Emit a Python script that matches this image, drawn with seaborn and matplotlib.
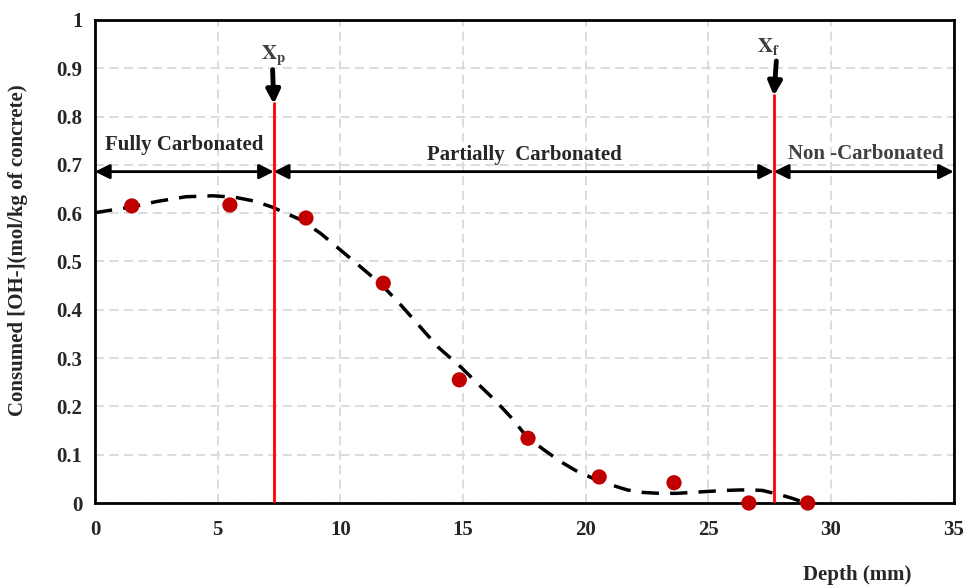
import matplotlib
matplotlib.use("Agg")
import matplotlib.pyplot as plt
import seaborn as sns
import pandas as pd

# measured points
depth = [1.5, 5.5, 8.6, 11.75, 14.85, 17.65, 20.55, 23.6, 26.65, 29.05]
consumed = [0.615, 0.617, 0.590, 0.455, 0.255, 0.134, 0.054, 0.042, 0.0, 0.0]

# dashed trend curve
trend_x = [0.0, 1.5, 2.5, 3.7, 4.8, 5.7, 6.5, 7.2, 8.4, 9.2, 10.0, 10.8, 11.7, 12.5,
           13.3, 14.0, 14.9, 15.6, 16.3, 17.0, 17.6, 18.3, 19.0, 19.6, 20.3, 21.0,
           21.7, 22.3, 23.0, 23.7, 24.4, 25.0, 25.7, 26.3, 26.8, 27.2, 27.6, 28.0,
           28.4, 28.8, 29.0]
trend_y = [0.601, 0.613, 0.624, 0.634, 0.636, 0.633, 0.625, 0.613, 0.586, 0.558,
           0.524, 0.490, 0.451, 0.408, 0.362, 0.322, 0.282, 0.247, 0.213, 0.175,
           0.137, 0.110, 0.085, 0.067, 0.051, 0.038, 0.027, 0.022, 0.020, 0.020,
           0.022, 0.024, 0.026, 0.027, 0.027, 0.026, 0.021, 0.016, 0.010, 0.003, 0.0]

x_p = 7.29
x_f = 27.67
zone_labels = ["Fully Carbonated", "Partially  Carbonated", "Non -Carbonated"]

sns.set_style("whitegrid")
plt.rcParams["font.family"] = ["Liberation Serif", "DejaVu Serif"]
plt.rcParams["font.weight"] = "bold"
plt.rcParams["mathtext.fontset"] = "stix"

fs = 15

fig = plt.figure(figsize=(9.66, 5.87), dpi=100)
ax = fig.add_axes([0.0983, 0.1431, 0.8890, 0.8229])

pts = pd.DataFrame({"depth": depth, "consumed": consumed})
trend = pd.DataFrame({"depth": trend_x, "consumed": trend_y})

sns.lineplot(data=trend, x="depth", y="consumed", ax=ax, color="black",
             linewidth=2.5, zorder=3)
ax.lines[-1].set_dashes([5, 3.2])
sns.scatterplot(data=pts, x="depth", y="consumed", ax=ax, color="#c00000",
                s=120, edgecolor="none", zorder=4, clip_on=False)

ax.set_xlim(0, 35)
ax.set_ylim(0, 1)
ax.set_xticks(range(0, 36, 5))
ax.set_yticks([i / 10 for i in range(11)])
ax.set_yticklabels(["0"] + [f"{i / 10:.1f}" for i in range(1, 10)] + ["1"])
ax.tick_params(length=0, labelsize=fs)
ax.tick_params(axis="y", pad=9)
ax.tick_params(axis="x", pad=12)
for lab in ax.get_xticklabels() + ax.get_yticklabels():
    lab.set_fontweight("bold")
ax.grid(True, color="#d9d9d9", linestyle=(0, (5, 3)), linewidth=1.3)
for sp in ax.spines.values():
    sp.set_color("black")
    sp.set_linewidth(2)
ax.set_xlabel("")
ax.set_ylabel("")

# boundaries
ax.plot([x_p, x_p], [0, 0.828], color="red", lw=2, zorder=5)
ax.plot([x_f, x_f], [0, 0.845], color="red", lw=2, zorder=5)
down = dict(arrowstyle="-|>", color="black", lw=3.5, mutation_scale=20, shrinkA=0, shrinkB=0)
ax.annotate("", xy=(x_p, 0.826), xytext=(x_p - 0.05, 0.897), arrowprops=down)
ax.annotate("", xy=(x_f, 0.843), xytext=(x_f + 0.1, 0.915), arrowprops=down)
ax.text(x_p, 0.925, r"$\mathbf{X_p}$", ha="center", va="center", fontsize=fs,
        color="#404040")
ax.text(x_f - 0.2, 0.945, r"$\mathbf{X_f}$", ha="center", va="center", fontsize=fs,
        color="#404040")

# zone arrows
y_arr = 0.686
arr = dict(arrowstyle="<|-|>", color="black", lw=2, mutation_scale=22, shrinkA=0, shrinkB=0)
ax.annotate("", xy=(0, y_arr), xytext=(x_p, y_arr), arrowprops=arr)
ax.annotate("", xy=(x_p, y_arr), xytext=(x_f, y_arr), arrowprops=arr)
ax.annotate("", xy=(x_f, y_arr), xytext=(35, y_arr), arrowprops=arr)
ax.text(3.65, 0.741, zone_labels[0], ha="center", va="center", fontsize=fs, fontweight="bold")
ax.text(17.5, 0.720, zone_labels[1], ha="center", va="center", fontsize=fs, fontweight="bold")
ax.text(31.4, 0.722, zone_labels[2], ha="center", va="center", fontsize=fs,
        fontweight="bold", color="#404040")

fig.text(0.019, 0.573, "Consumed [OH-](mol/kg of concrete)", rotation=90, ha="center",
         va="center", fontsize=fs, fontweight="bold")
fig.text(0.887, 0.02, "Depth (mm)", ha="center", va="center", fontsize=fs, fontweight="bold")

fig.savefig("out.png", dpi=100)
